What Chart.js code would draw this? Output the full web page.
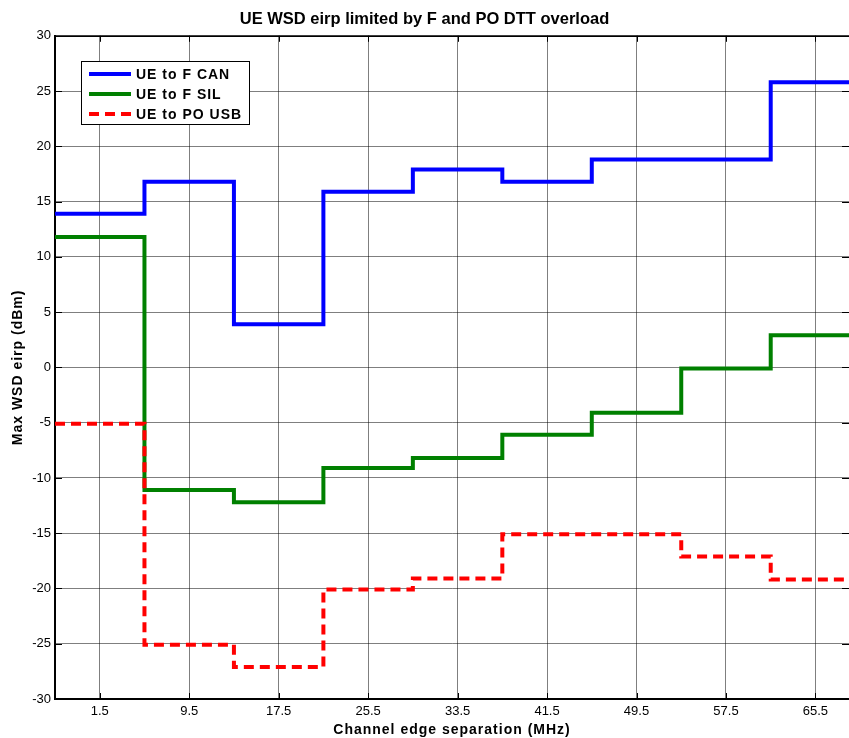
<!DOCTYPE html>
<html>
<head>
<meta charset="utf-8">
<title>UE WSD eirp limited by F and PO DTT overload</title>
<script src="https://cdn.jsdelivr.net/npm/chart.js@4.4.1/dist/chart.umd.min.js"></script>
<style>
  html, body { margin: 0; padding: 0; background: #fff; }
  canvas { display: block; }
</style>
</head>
<body>
<canvas id="eirp-chart" width="849" height="738"></canvas>
<script>
// Channel edges (MHz) where each 8 MHz step starts; the last one closes the final step
var channelEdges = [-2.5, 5.5, 13.5, 21.5, 29.5, 37.5, 45.5, 53.5, 61.5, 69.5];
// Channel centres, used as the x tick positions / labels
var channelCentres = [1.5, 9.5, 17.5, 25.5, 33.5, 41.5, 49.5, 57.5, 65.5];

// Max WSD eirp (dBm) per channel
var ueToFCan  = [13.9, 16.8, 3.9, 15.9, 17.9, 16.8, 18.8, 18.8, 25.8];
var ueToFSil  = [11.8, -11.1, -12.2, -9.1, -8.2, -6.1, -4.1, -0.1, 2.9];
var ueToPoUsb = [-5.1, -25.1, -27.1, -20.1, -19.1, -15.1, -15.1, -17.1, -19.2];

var FONT = "'Liberation Sans', Arial, Helvetica, sans-serif";

// stairs: each value holds from its edge up to the next one
function stairs(values) {
    return channelEdges.map(function(x, i) {
        return {x: x, y: values[Math.min(i, values.length - 1)]};
    });
}

// top border and inward tick marks
var frameTicks = {
    id: 'frameTicks',
    beforeDatasetsDraw: function(chart) {
        var ctx = chart.ctx, a = chart.chartArea;
        ctx.save();
        ctx.strokeStyle = '#000';
        ctx.lineWidth = 1;
        ctx.beginPath();
        chart.scales.x.ticks.forEach(function(t) {
            var px = Math.round(chart.scales.x.getPixelForValue(t.value)) + 0.5;
            ctx.moveTo(px, a.bottom); ctx.lineTo(px, a.bottom - 6);
            ctx.moveTo(px, a.top); ctx.lineTo(px, a.top + 6);
        });
        chart.scales.y.ticks.forEach(function(t) {
            var py = Math.round(chart.scales.y.getPixelForValue(t.value)) + 0.5;
            ctx.moveTo(a.left, py); ctx.lineTo(a.left + 7, py);
            ctx.moveTo(a.right, py); ctx.lineTo(a.right - 7, py);
        });
        ctx.stroke();
        ctx.lineWidth = 1.5;
        ctx.beginPath();
        ctx.moveTo(a.left, a.top + 0.5);
        ctx.lineTo(a.right, a.top + 0.5);
        ctx.stroke();
        ctx.restore();
    }
};

// axis titles, letter-spaced
var axisTitles = {
    id: 'axisTitles',
    afterDraw: function(chart) {
        var ctx = chart.ctx, a = chart.chartArea;
        ctx.save();
        ctx.fillStyle = '#000';
        ctx.font = 'bold 14px ' + FONT;
        ctx.letterSpacing = '1px';
        ctx.textAlign = 'center';
        ctx.textBaseline = 'middle';
        ctx.fillText('Channel edge separation (MHz)', (a.left + a.right) / 2, 730);
        ctx.translate(18, (a.top + a.bottom) / 2);
        ctx.rotate(-Math.PI / 2);
        ctx.fillText('Max WSD eirp (dBm)', 0, 0);
        ctx.restore();
    }
};

// boxed legend in the upper left of the plot
var boxLegend = {
    id: 'boxLegend',
    afterDraw: function(chart) {
        var ctx = chart.ctx;
        var x = 81.5, y = 61.5, w = 168, h = 63;
        ctx.save();
        ctx.fillStyle = '#fff';
        ctx.fillRect(x, y, w, h);
        ctx.strokeStyle = '#000';
        ctx.lineWidth = 1;
        ctx.strokeRect(x, y, w, h);
        ctx.font = 'bold 14px ' + FONT;
        ctx.letterSpacing = '1px';
        ctx.textBaseline = 'middle';
        ctx.textAlign = 'left';
        chart.data.datasets.forEach(function(ds, i) {
            var ly = 74 + i * 20;
            ctx.strokeStyle = ds.borderColor;
            ctx.lineWidth = ds.borderWidth;
            ctx.setLineDash(ds.borderDash || []);
            ctx.beginPath();
            ctx.moveTo(89, ly);
            ctx.lineTo(131, ly);
            ctx.stroke();
            ctx.setLineDash([]);
            ctx.fillStyle = '#000';
            ctx.fillText(ds.label, 136, ly + 1);
        });
        ctx.restore();
    }
};

new Chart(document.getElementById('eirp-chart'), {
    type: 'line',
    data: {
        datasets: [{
            label: 'UE to F CAN',
            data: stairs(ueToFCan),
            borderColor: '#0000ff',
            borderWidth: 4,
            order: 2
        }, {
            label: 'UE to F SIL',
            data: stairs(ueToFSil),
            borderColor: '#008000',
            borderWidth: 4,
            order: 1
        }, {
            label: 'UE to PO USB',
            data: stairs(ueToPoUsb),
            borderColor: '#ff0000',
            borderWidth: 4,
            borderDash: [10, 6],
            order: 0
        }]
    },
    options: {
        responsive: false,
        animation: false,
        events: [],
        layout: { padding: 0 },
        elements: {
            line: { stepped: 'before', tension: 0, fill: false },
            point: { radius: 0 }
        },
        plugins: {
            legend: { display: false },
            tooltip: { enabled: false },
            title: {
                display: true,
                text: 'UE WSD eirp limited by F and PO DTT overload',
                color: '#000',
                font: { family: FONT, size: 16.5, weight: 'bold' },
                padding: { top: 10, bottom: 6 }
            }
        },
        scales: {
            x: {
                type: 'linear',
                min: -2.5,
                max: 68.5,
                afterBuildTicks: function(scale) {
                    scale.ticks = channelCentres.map(function(v) { return {value: v}; });
                },
                afterFit: function(scale) { scale.height = 39; },
                ticks: {
                    color: '#000',
                    font: { family: FONT, size: 13 },
                    padding: 5,
                    maxRotation: 0,
                    autoSkip: false
                },
                grid: { color: 'rgba(0,0,0,0.5)', drawTicks: false },
                border: { color: '#000', width: 2 }
            },
            y: {
                min: -30,
                max: 30,
                afterFit: function(scale) { scale.width = 55; },
                ticks: {
                    stepSize: 5,
                    color: '#000',
                    font: { family: FONT, size: 13 },
                    padding: 4
                },
                grid: { color: 'rgba(0,0,0,0.5)', drawTicks: false },
                border: { color: '#000', width: 2 }
            }
        }
    },
    plugins: [frameTicks, axisTitles, boxLegend]
});
</script>
</body>
</html>
